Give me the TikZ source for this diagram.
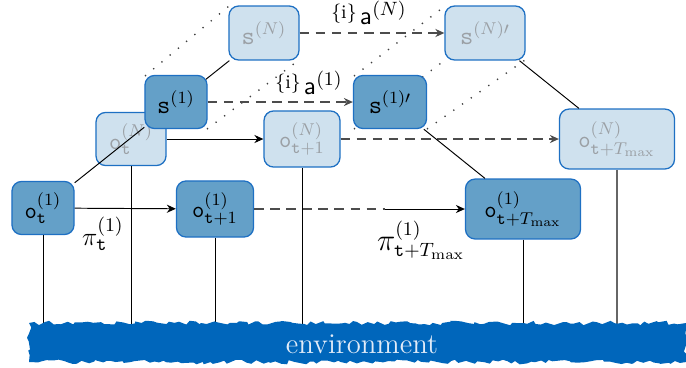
\documentclass[tikz,border=0pt]{standalone}
\usetikzlibrary{arrows.meta,decorations.pathmorphing}
\definecolor{bdr}{RGB}{30,112,195}
\definecolor{dkfill}{RGB}{100,160,200}
\definecolor{ltfill}{RGB}{207,225,238}
\definecolor{envblue}{RGB}{0,102,187}
\definecolor{envtext}{RGB}{225,235,248}
\definecolor{ltext}{RGB}{155,160,165}
\tikzset{
  dk/.style={draw=bdr, fill=dkfill, rounded corners=4.5pt, line width=0.6pt, inner sep=0pt, text=black, font=\fontsize{11.3}{13}\selectfont},
  lt/.style={draw=bdr, fill=ltfill, rounded corners=4.5pt, line width=0.6pt, inner sep=0pt, text=ltext, font=\fontsize{11.3}{13}\selectfont},
  arr/.style={-{Stealth[length=4.2pt,width=3.8pt]}, line width=0.45pt},
  dsh/.style={dash pattern=on 4.5pt off 3pt, line width=0.5pt, draw=black!70},
  dsharr/.style={dsh, -{Stealth[length=4.2pt,width=3.8pt]}},
  dots/.style={dash pattern=on 0.6pt off 4.4pt, line width=0.65pt, draw=black!75},
  vline/.style={line width=0.45pt},
  lbl/.style={inner sep=0pt}
}
\begin{document}
\begin{tikzpicture}[x=0.467pt,y=-0.467pt]
\useasboundingbox (0,0) rectangle (686,367);

% layer N nodes
\node[lt, minimum width=32.7pt, minimum height=24.8pt] (oN) at (131,139) {$\mathtt{o}^{(N)}_{\mathtt{t}}$};
\node[lt, minimum width=35.5pt, minimum height=26.2pt] (o1N) at (302,139) {$\mathtt{o}^{(N)}_{\mathtt{t}+1}$};
\node[lt, minimum width=53.7pt, minimum height=28pt] (oTN) at (617,139) {$\mathtt{o}^{(N)}_{\mathtt{t}+T_{\max}}$};

% dotted guides between s layers (behind)
\draw[dots] (145,76) -- (229,6);
\draw[dots] (207,129) -- (299,60);
\draw[dots] (354,76) -- (445,6);
\draw[dots] (427,129) -- (525,60);
\draw[dots] (354,129) -- (445,60);

\node[lt, minimum width=32.7pt, minimum height=25.2pt, font=\large] (sN) at (264,33) {$\mathtt{s}^{(N)}$};
\node[lt, minimum width=37.4pt, minimum height=25.2pt, font=\large] (sNp) at (485,33) {$\mathtt{s}^{(N)\prime}$};

% layer N connectors
\draw[arr] (oN) -- (o1N);
\draw[dsharr] (o1N) -- (oTN);
\draw[dsharr] (sN) -- (sNp);
\draw[vline] (oN) -- (sN);
\draw[vline] (sNp) -- (oTN);

% layer 1 nodes
\node[dk, minimum width=29pt, minimum height=24.8pt] (o1) at (43,208) {$\mathtt{o}^{(1)}_{\mathtt{t}}$};
\node[dk, minimum width=36pt, minimum height=26.2pt] (o11) at (215,209) {$\mathtt{o}^{(1)}_{\mathtt{t}+1}$};
\node[dk, minimum width=53.7pt, minimum height=28pt] (oT1) at (523,209) {$\mathtt{o}^{(1)}_{\mathtt{t}+T_{\max}}$};
\node[dk, minimum width=29pt, minimum height=24.8pt, font=\large] (s1) at (176,102) {$\mathtt{s}^{(1)}$};
\node[dk, minimum width=34.1pt, minimum height=24.8pt, font=\large] (s1p) at (390,102) {$\mathtt{s}^{(1)\prime}$};

% layer 1 connectors
\draw[vline] (o1) -- (s1);
\draw[vline] (s1p) -- (oT1);
\draw[arr] (o1) -- (o11);
\coordinate (mid1) at (385,209);
\draw[dsh] (o11) -- (mid1);
\draw[arr] (mid1) -- (oT1);
\draw[dsharr] (s1) -- (s1p);

% labels
\node[lbl, font=\fontsize{13}{15}\selectfont] (pi1) at (103,234) {$\pi^{(1)}_{\mathtt{t}}$};
\node[lbl, font=\fontsize{13.5}{15}\selectfont] (piT) at (421,240) {$\pi^{(1)}_{\mathtt{t}+T_{\max}}$};
\node[lbl] (a1) at (309,83) {{\fontsize{9}{10}\selectfont\raisebox{3pt}{\{i\}}}\,\fontsize{12.5}{14}\selectfont$\mathsf{a}^{(1)}$};
\node[lbl] (aN) at (369,13) {{\fontsize{9}{10}\selectfont\raisebox{3pt}{\{i\}}}\,\fontsize{12.5}{14}\selectfont$\mathsf{a}^{(N)}$};

% vertical lines to environment
\coordinate (envtop) at (0,330);
\draw[vline] (o1.south) -- (o1.south |- envtop);
\draw[vline] (oN.south) -- (oN.south |- envtop);
\draw[vline] (o11.south) -- (o11.south |- envtop);
\draw[vline] (o1N.south) -- (o1N.south |- envtop);
\draw[vline] (oT1.south) -- (oT1.south |- envtop);
\draw[vline, draw=black!60, line width=0.6pt] (oTN.south) -- (oTN.south |- envtop);

% environment
\fill[envblue, decorate, decoration={random steps, segment length=2.2pt, amplitude=1.1pt}]
  (29,323) -- (686,323) -- (686,362) -- (29,362) -- cycle;
\node[text=envtext, font=\fontsize{13.4}{15}\selectfont, inner sep=0pt] (env) at (362,344) {environment};
\end{tikzpicture}
\end{document}
